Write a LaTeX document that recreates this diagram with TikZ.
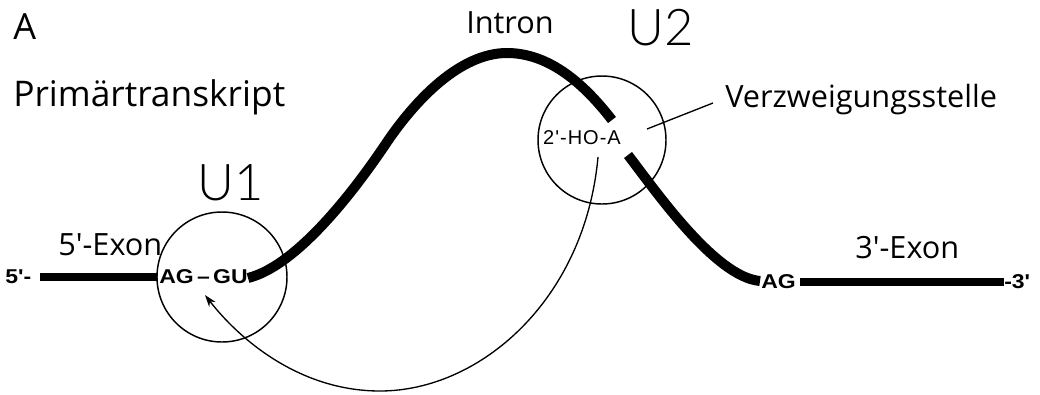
\documentclass[tikz,border=0pt]{standalone}
\usepackage{fontspec}
\usetikzlibrary{arrows.meta}
\newfontfamily\labfont{Open Sans}
\newfontfamily\smfont{Liberation Sans}
\newfontfamily\smwidefont[FakeStretch=1.15]{Liberation Sans}
\IfFontExistsTF{Lato Light}{\newfontfamily\handfont{Lato Light}}{\newfontfamily\handfont{Lato}}
\begin{document}
\begin{tikzpicture}[x=0.75pt,y=-0.75pt,
  lab/.style={inner sep=0pt,font=\labfont\fontsize{23pt}{26pt}\selectfont},
  small/.style={inner sep=0pt,font=\smwidefont\bfseries\fontsize{15pt}{17pt}\selectfont},
  hand/.style={inner sep=0pt,font=\handfont\fontsize{38pt}{40pt}\selectfont},
  rna/.style={line width=7.5pt,line cap=butt},
  exonbar/.style={line width=6pt,line cap=butt},
  snrnp/.style={draw,circle,line width=1.1pt},
  thin/.style={line width=1pt},
  arr/.style={line width=1pt,-{Stealth[length=9pt,width=6pt]}}]
\useasboundingbox (0,0) rectangle (1040,394);
\fill[white] (0,0) rectangle (1040,394);
% titles
\node[lab,anchor=base west,font=\labfont\fontsize{27pt}{30pt}\selectfont] (A) at (13,39) {A};
\node[lab,anchor=base west,font=\labfont\fontsize{26.5pt}{29pt}\selectfont] (pt) at (13,106) {Primärtranskript};
\node[lab,anchor=base] (intron) at (510,33) {Intron};
\node[lab,anchor=base west] (vz) at (725,107) {Verzweigungsstelle};
\node[lab,anchor=base west] (ex5) at (58,255) {5'-Exon};
\node[lab,anchor=base west] (ex3) at (855,258) {3'-Exon};
\node[hand] (u1) at (231,183) {U1};
\node[hand] (u2) at (661,28) {U2};
% circles
\node[snrnp,minimum size=130*0.75pt] (c1) at (222,277) {};
\node[snrnp,minimum size=128*0.75pt] (c2) at (602,140) {};
% small labels
\node[small,anchor=west] (p5) at (5,277) {5'-};
\node[small,anchor=west] (aggu) at (159,277) {AG\,–\,GU};
\node[small,anchor=west] (ag3) at (761,282) {AG};
\node[small,anchor=west] (p3) at (1004,282) {-3'};
\node[inner sep=0pt,font=\smfont\addfontfeature{LetterSpace=5}\fontsize{15pt}{17pt}\selectfont] (hoa) at (582,138) {2'-HO-A};
% exon bars
\coordinate (e5a) at (40,277); \coordinate (e5b) at (157,277);
\coordinate (e3a) at (800,282); \coordinate (e3b) at (1004,282);
\draw[exonbar] (e5a) -- (e5b);
\draw[exonbar] (e3a) -- (e3b);
% intron
\coordinate (i0) at (248,278); \coordinate (i1) at (385,145);
\coordinate (i2) at (507,53); \coordinate (i3) at (612,120);
\draw[rna] (i0) .. controls (300,265) and (360,182) .. (i1)
  .. controls (415,100) and (460,53) .. (i2)
  .. controls (550,53) and (585,85) .. (i3);
\coordinate (j0) at (628,155); \coordinate (j1) at (760,281);
\draw[rna] (j0) .. controls (655,190) and (715,277) .. (j1);
% pointer
\coordinate (v0) at (647,129); \coordinate (v1) at (713,103);
\draw[thin] (v0) -- (v1);
% lariat arrow
\coordinate (a0) at (598,157); \coordinate (a1) at (380,391); \coordinate (a2) at (205,295);
\draw[arr] (a0) .. controls (585,300) and (480,391) .. (a1)
  .. controls (300,391) and (240,340) .. (a2);
\end{tikzpicture}
\end{document}
